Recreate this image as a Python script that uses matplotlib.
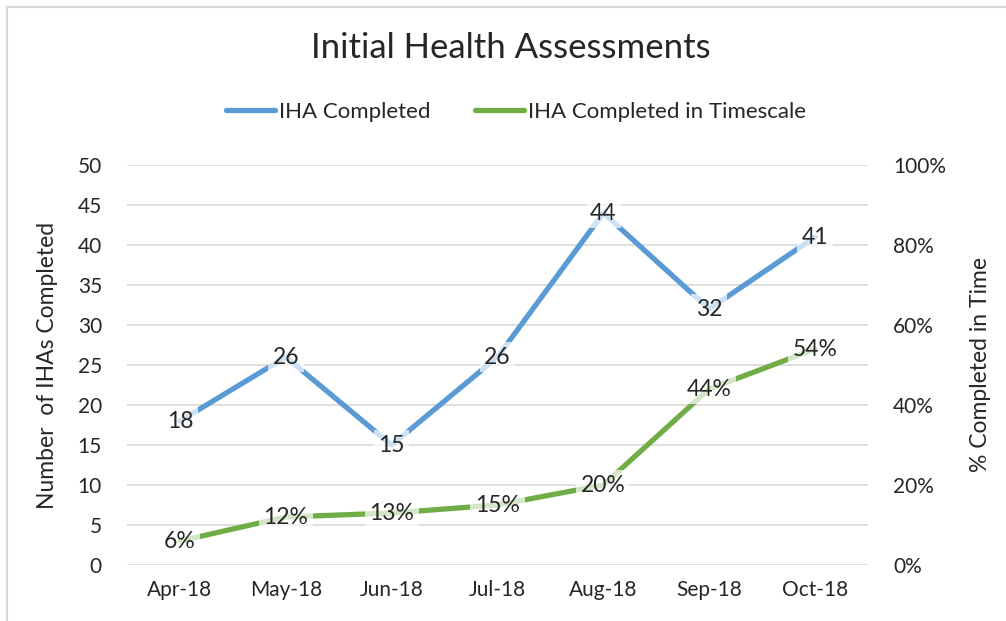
import numpy as np
import matplotlib
matplotlib.use("Agg")
from matplotlib import pyplot as plt
from matplotlib.lines import Line2D

# data
months = ['Apr-18', 'May-18', 'Jun-18', 'Jul-18', 'Aug-18', 'Sep-18', 'Oct-18']
iha_completed = [18, 26, 15, 26, 44, 32, 41]
iha_timescale = [0.06, 0.12, 0.13, 0.15, 0.20, 0.44, 0.54]

blue = '#5B9BD5'
green = '#70AD47'
grid = '#D9D9D9'
txt = '#262626'

plt.rcParams['font.family'] = ['Lato', 'DejaVu Sans']

fig = plt.figure(figsize=(10.06, 6.21), dpi=100)

# chart border (top and left visible)
fig.add_artist(Line2D([7/1006, 1], [1 - 7/621, 1 - 7/621], color='#D9D9D9', lw=1.5))
fig.add_artist(Line2D([7/1006, 7/1006], [0, 1 - 7/621], color='#D9D9D9', lw=1.5))

ax = fig.add_axes([127/1006, 1 - 565/621, 741/1006, 400/621])
ax2 = ax.twinx()

x = np.arange(len(months))
ax.plot(x, iha_completed, color=blue, lw=3.8, solid_capstyle='round')
ax2.plot(x, iha_timescale, color=green, lw=3.8, solid_capstyle='round')

ax.set_xlim(-0.5, len(months) - 0.5)
ax.set_ylim(0, 50)
ax.set_yticks(range(0, 51, 5))
ax2.set_ylim(0, 1)
ax2.set_yticks(np.arange(0, 1.01, 0.2))
ax2.set_yticklabels([f'{int(round(v*100))}%' for v in np.arange(0, 1.01, 0.2)])
ax.set_xticks(x)
ax.set_xticklabels(months)

ax.grid(axis='y', color=grid, lw=1.2)
ax.set_axisbelow(True)
for a in (ax, ax2):
    for s in a.spines.values():
        s.set_visible(False)
    a.tick_params(length=0, labelsize=15, colors=txt)
ax.tick_params(axis='y', pad=18)
ax.tick_params(axis='x', pad=11)
ax2.tick_params(axis='y', pad=18)

box = dict(boxstyle='square,pad=0.2', facecolor='white', edgecolor='none', alpha=0.7)
for xi, v in zip(x, iha_completed):
    ax.text(xi, v, str(v), ha='center', va='center', fontsize=16.5, color=txt, bbox=box)
for xi, v in zip(x, iha_timescale):
    ax2.text(xi, v, f'{int(round(v*100))}%', ha='center', va='center', fontsize=16.5, color=txt, bbox=box)

ax.set_ylabel('Number  of IHAs Completed', fontsize=16.5, color=txt)
ax2.set_ylabel('% Completed in Time', fontsize=16.5, color=txt)
ax.yaxis.set_label_coords(-0.093, 0.5)
ax2.yaxis.set_label_coords(1.1377, 0.5)

fig.text(511/1006, 1 - 48/621, 'Initial Health Assessments', ha='center', va='center',
         fontsize=25, color=txt)

handles = [Line2D([], [], color=blue, lw=3.8, solid_capstyle='round'),
           Line2D([], [], color=green, lw=3.8, solid_capstyle='round')]
fig.legend(handles, ['IHA Completed', 'IHA Completed in Timescale'], loc='center',
           bbox_to_anchor=(516/1006, 1 - 112/621), ncol=2, frameon=False, fontsize=16,
           handlelength=2.2, handletextpad=0.2, columnspacing=2.0, labelcolor=txt)

fig.savefig('out.png', dpi=100, facecolor='white')
